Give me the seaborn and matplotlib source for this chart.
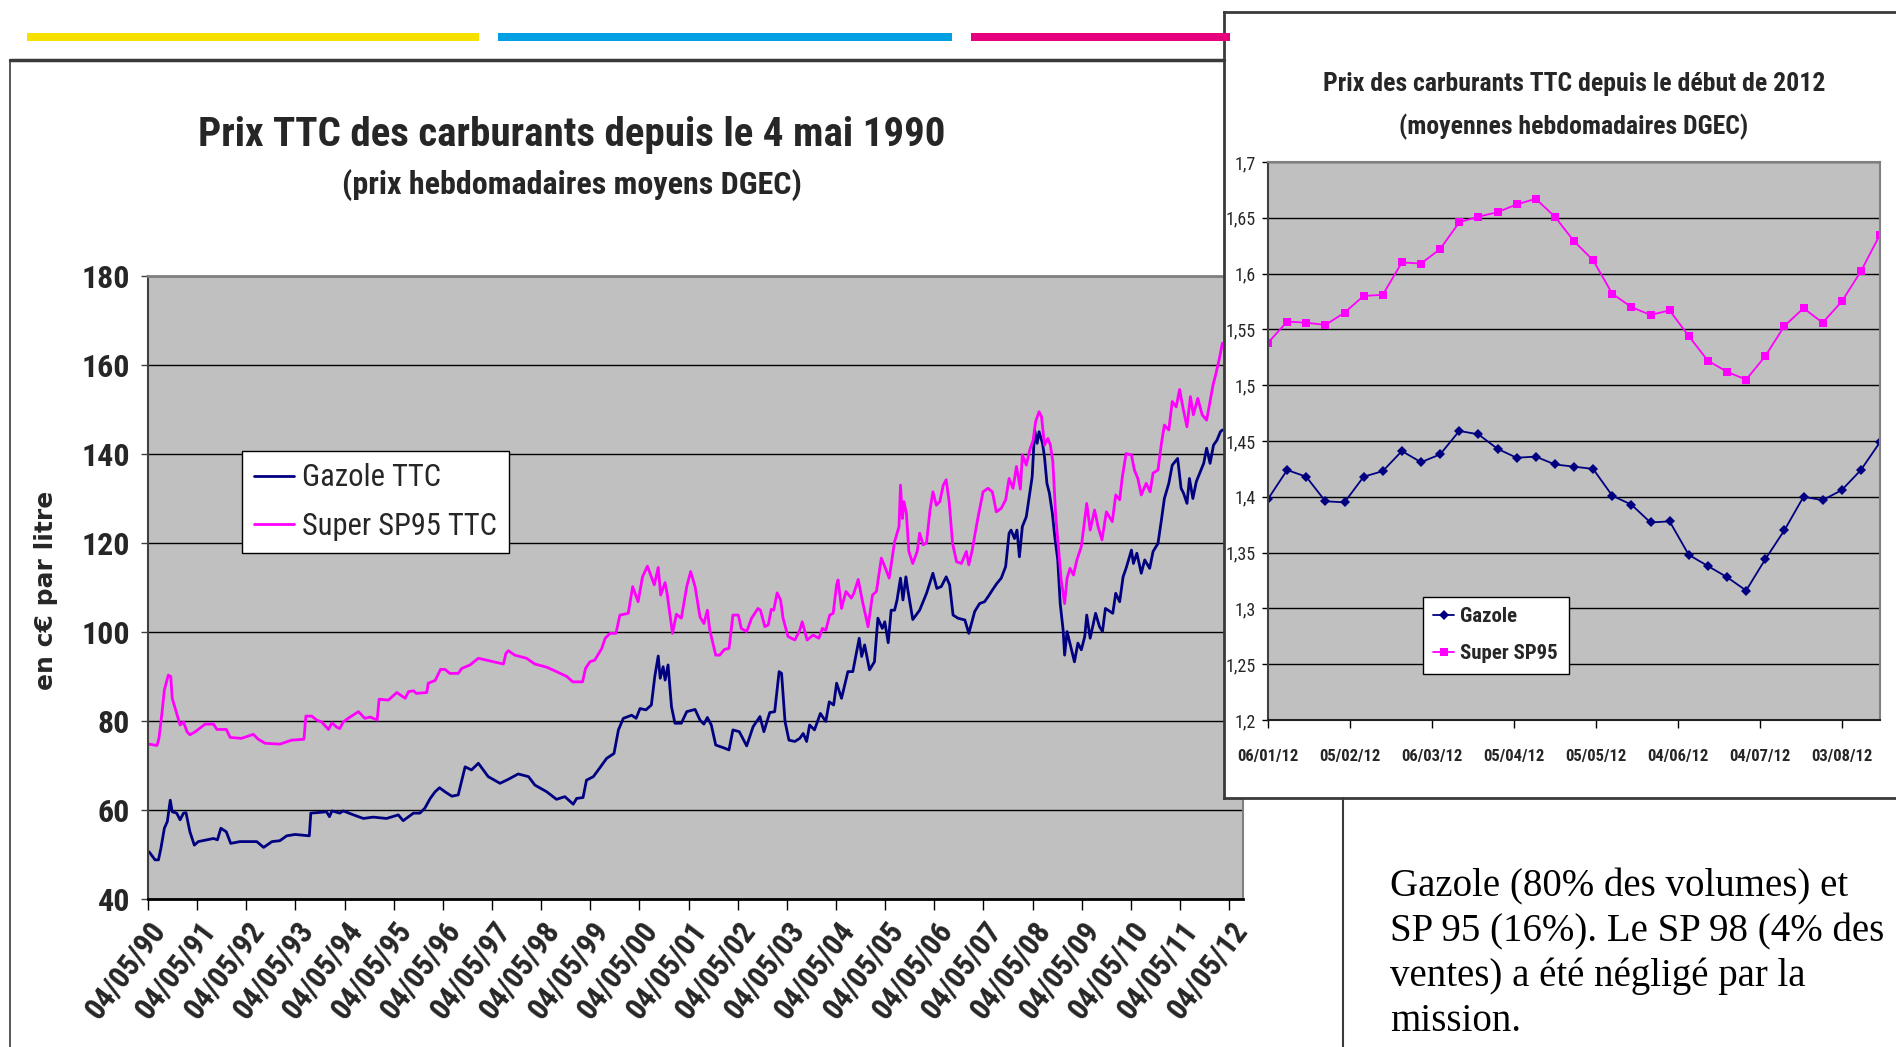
import pandas as pd
import matplotlib
matplotlib.use('Agg')
from matplotlib import pyplot as plt
from matplotlib.lines import Line2D
from matplotlib.patches import Rectangle
import seaborn as sns

# --- main chart: weekly prices (c€/l), decimal years ---
annees_gazole = [
    1990.36, 1990.48, 1990.55, 1990.60, 1990.67, 1990.73, 1990.79, 1990.83, 1990.92, 1990.99,
    1991.06, 1991.11, 1991.19, 1991.28, 1991.36, 1991.67, 1991.75, 1991.82, 1991.93, 1992.02,
    1992.21, 1992.55, 1992.69, 1992.86, 1993.02, 1993.16, 1993.33, 1993.62, 1993.65, 1993.77,
    1993.97, 1994.03, 1994.08, 1994.24, 1994.31, 1994.52, 1994.72, 1994.92, 1995.19, 1995.43,
    1995.53, 1995.74, 1995.87, 1995.97, 1996.08, 1996.18, 1996.27, 1996.38, 1996.52, 1996.65,
    1996.79, 1996.92, 1997.06, 1997.26, 1997.50, 1997.67, 1997.87, 1998.08, 1998.21, 1998.45,
    1998.65, 1998.82, 1998.99, 1999.06, 1999.19, 1999.26, 1999.40, 1999.50, 1999.67, 1999.82,
    1999.91, 2000.01, 2000.18, 2000.27, 2000.35, 2000.47, 2000.58, 2000.65, 2000.72, 2000.76,
    2000.82, 2000.86, 2000.92, 2000.99, 2001.06, 2001.19, 2001.30, 2001.47, 2001.57, 2001.65,
    2001.72, 2001.80, 2001.89, 2002.07, 2002.16, 2002.24, 2002.37, 2002.52, 2002.65, 2002.79,
    2002.87, 2002.99, 2003.09, 2003.18, 2003.23, 2003.30, 2003.38, 2003.50, 2003.60, 2003.67,
    2003.74, 2003.80, 2003.90, 2004.02, 2004.13, 2004.20, 2004.29, 2004.35, 2004.45, 2004.58,
    2004.68, 2004.75, 2004.81, 2004.86, 2004.92, 2005.02, 2005.12, 2005.19, 2005.28, 2005.33,
    2005.40, 2005.46, 2005.53, 2005.58, 2005.65, 2005.70, 2005.76, 2005.80, 2005.90, 2006.04,
    2006.18, 2006.31, 2006.39, 2006.48, 2006.58, 2006.65, 2006.72, 2006.82, 2006.96, 2007.04,
    2007.16, 2007.26, 2007.36, 2007.43, 2007.53, 2007.61, 2007.70, 2007.79, 2007.86, 2007.90,
    2007.97, 2008.02, 2008.07, 2008.13, 2008.21, 2008.28, 2008.33, 2008.38, 2008.43, 2008.47,
    2008.54, 2008.58, 2008.63, 2008.68, 2008.74, 2008.79, 2008.85, 2008.90, 2008.96, 2008.99,
    2009.04, 2009.09, 2009.19, 2009.26, 2009.33, 2009.40, 2009.44, 2009.51, 2009.62, 2009.70,
    2009.76, 2009.82, 2009.97, 2010.03, 2010.11, 2010.18, 2010.24, 2010.35, 2010.39, 2010.46,
    2010.55, 2010.62, 2010.72, 2010.79, 2010.89, 2010.96, 2011.02, 2011.11, 2011.18, 2011.29,
    2011.36, 2011.41, 2011.48, 2011.53, 2011.60, 2011.67, 2011.75, 2011.82, 2011.88, 2011.95,
    2012.02, 2012.09, 2012.16, 2012.20,
]
gazole = [
    50.6, 48.8, 48.8, 51.4, 55.9, 57.4, 62.2, 59.6, 59.3, 57.8,
    59.3, 59.4, 55.1, 52.1, 52.9, 53.6, 53.3, 55.9, 55.1, 52.5,
    52.9, 52.9, 51.6, 52.9, 53.1, 54.2, 54.5, 54.2, 59.3, 59.4,
    59.6, 58.5, 59.8, 59.3, 59.8, 58.9, 58.1, 58.4, 58.1, 58.9,
    57.6, 59.3, 59.3, 60.4, 62.6, 64.1, 65.0, 64.1, 63.1, 63.4,
    69.7, 69.0, 70.5, 67.5, 66.0, 66.9, 68.1, 67.5, 65.6, 64.1,
    62.4, 63.0, 61.3, 62.6, 62.8, 66.7, 67.5, 69.0, 71.6, 72.7,
    78.0, 80.6, 81.3, 80.6, 82.8, 82.5, 83.6, 90.0, 94.6, 89.6,
    92.2, 89.2, 92.6, 83.2, 79.5, 79.5, 82.1, 82.6, 80.2, 79.3,
    80.8, 79.1, 74.6, 73.9, 73.5, 78.0, 77.6, 74.4, 78.7, 81.0,
    77.6, 81.9, 82.1, 91.1, 90.7, 79.9, 75.7, 75.4, 76.1, 77.2,
    75.4, 79.1, 78.0, 81.7, 79.9, 84.3, 83.6, 88.5, 85.1, 91.1,
    91.1, 95.2, 98.6, 94.5, 97.1, 91.5, 93.3, 103.1, 100.8, 102.3,
    97.6, 104.9, 104.9, 107.2, 112.1, 107.2, 112.4, 109.4, 102.8, 104.9,
    108.7, 113.2, 109.8, 110.2, 112.4, 110.6, 103.8, 103.1, 102.7, 99.7,
    104.6, 106.4, 106.8, 107.9, 109.6, 110.9, 112.1, 114.7, 122.2, 122.9,
    121.0, 122.9, 116.9, 123.7, 125.9, 131.2, 134.9, 145.4, 142.4, 145.0,
    142.4, 139.4, 133.4, 131.2, 126.7, 121.4, 116.2, 106.4, 100.4, 94.8,
    100.1, 97.8, 93.3, 97.5, 96.0, 99.0, 103.8, 98.6, 104.2, 101.2,
    100.1, 105.3, 104.2, 108.7, 106.8, 112.4, 114.3, 118.4, 115.4, 117.7,
    113.2, 116.2, 114.3, 118.1, 119.9, 125.2, 130.0, 133.4, 137.5, 139.0,
    132.3, 131.2, 128.9, 134.5, 130.0, 133.8, 136.0, 137.9, 141.3, 137.9,
    142.0, 143.1, 145.0, 145.4,
]

annees_sp95 = [
    1990.36, 1990.52, 1990.56, 1990.62, 1990.67, 1990.75, 1990.80, 1990.83, 1990.91, 1990.99,
    1991.06, 1991.13, 1991.19, 1991.30, 1991.50, 1991.67, 1991.74, 1991.93, 1992.01, 1992.24,
    1992.48, 1992.58, 1992.72, 1993.02, 1993.26, 1993.51, 1993.55, 1993.67, 1993.77, 1993.87,
    1994.01, 1994.08, 1994.18, 1994.24, 1994.31, 1994.45, 1994.62, 1994.75, 1994.86, 1995.00,
    1995.04, 1995.23, 1995.40, 1995.57, 1995.64, 1995.74, 1995.80, 1996.01, 1996.04, 1996.18,
    1996.29, 1996.38, 1996.48, 1996.65, 1996.72, 1996.89, 1997.06, 1997.26, 1997.50, 1997.57,
    1997.62, 1997.67, 1997.80, 1998.04, 1998.21, 1998.45, 1998.65, 1998.86, 1998.98, 1999.18,
    1999.24, 1999.33, 1999.43, 1999.57, 1999.64, 1999.74, 1999.86, 1999.94, 2000.11, 2000.20,
    2000.31, 2000.40, 2000.50, 2000.58, 2000.64, 2000.72, 2000.77, 2000.86, 2000.90, 2001.01,
    2001.09, 2001.19, 2001.30, 2001.38, 2001.47, 2001.57, 2001.65, 2001.72, 2001.77, 2001.89,
    2001.97, 2002.07, 2002.16, 2002.24, 2002.35, 2002.41, 2002.52, 2002.62, 2002.75, 2002.80,
    2002.89, 2002.96, 2003.02, 2003.07, 2003.14, 2003.21, 2003.26, 2003.36, 2003.50, 2003.60,
    2003.65, 2003.75, 2003.87, 2003.99, 2004.06, 2004.13, 2004.21, 2004.28, 2004.35, 2004.38,
    2004.45, 2004.54, 2004.65, 2004.70, 2004.79, 2004.87, 2004.99, 2005.08, 2005.16, 2005.26,
    2005.33, 2005.42, 2005.50, 2005.53, 2005.62, 2005.65, 2005.69, 2005.72, 2005.77, 2005.82,
    2005.90, 2005.99, 2006.04, 2006.11, 2006.18, 2006.25, 2006.31, 2006.38, 2006.45, 2006.52,
    2006.58, 2006.64, 2006.71, 2006.79, 2006.89, 2006.99, 2007.04, 2007.11, 2007.18, 2007.23,
    2007.33, 2007.43, 2007.52, 2007.60, 2007.70, 2007.79, 2007.86, 2007.94, 2008.01, 2008.09,
    2008.13, 2008.21, 2008.28, 2008.35, 2008.40, 2008.47, 2008.52, 2008.58, 2008.65, 2008.70,
    2008.75, 2008.81, 2008.87, 2008.92, 2008.99, 2009.04, 2009.10, 2009.17, 2009.24, 2009.33,
    2009.38, 2009.44, 2009.51, 2009.60, 2009.67, 2009.75, 2009.84, 2009.96, 2010.03, 2010.11,
    2010.16, 2010.24, 2010.35, 2010.41, 2010.48, 2010.55, 2010.65, 2010.73, 2010.79, 2010.89,
    2010.96, 2011.02, 2011.11, 2011.18, 2011.26, 2011.33, 2011.40, 2011.48, 2011.55, 2011.61,
    2011.70, 2011.79, 2011.88, 2011.95, 2012.01, 2012.07, 2012.14, 2012.20,
]
sp95 = [
    74.8, 74.5, 76.1, 81.7, 87.0, 90.3, 90.0, 85.1, 82.1, 79.1,
    79.8, 77.6, 76.9, 77.6, 79.3, 79.3, 78.1, 78.1, 76.3, 76.1,
    77.0, 75.9, 75.0, 74.8, 75.7, 75.9, 81.1, 81.1, 80.2, 79.8,
    78.1, 79.6, 78.6, 78.3, 79.8, 80.9, 82.1, 80.6, 80.9, 80.2,
    84.9, 84.7, 86.4, 85.1, 86.6, 86.8, 86.2, 86.4, 88.5, 89.1,
    91.6, 91.6, 90.7, 90.7, 91.8, 92.6, 94.1, 93.6, 93.0, 92.8,
    95.2, 95.8, 94.8, 94.1, 92.8, 92.1, 91.1, 90.0, 88.8, 88.8,
    91.8, 93.3, 93.7, 96.3, 98.6, 99.7, 99.7, 103.8, 104.2, 110.2,
    106.8, 112.4, 114.8, 112.4, 110.6, 114.5, 108.3, 111.1, 108.7, 99.7,
    104.0, 103.1, 110.2, 113.6, 110.2, 103.4, 101.9, 104.9, 100.4, 94.8,
    94.8, 96.1, 96.3, 103.8, 103.8, 100.8, 100.1, 103.1, 105.3, 104.9,
    101.2, 101.6, 105.1, 104.9, 108.8, 107.2, 103.1, 99.0, 98.2, 100.4,
    102.3, 98.2, 99.3, 98.6, 100.8, 100.4, 103.8, 104.2, 110.6, 111.7,
    105.3, 109.1, 107.6, 108.7, 111.8, 107.2, 101.2, 108.3, 109.1, 116.6,
    114.7, 112.1, 118.1, 120.3, 123.7, 133.0, 125.5, 129.3, 126.7, 118.1,
    115.4, 118.1, 122.2, 119.6, 120.0, 127.4, 131.5, 128.5, 129.3, 133.0,
    134.2, 129.3, 119.9, 115.8, 115.4, 118.1, 115.1, 118.4, 122.9, 125.9,
    131.5, 132.3, 131.5, 127.0, 127.8, 129.7, 134.5, 132.3, 137.2, 132.1,
    139.8, 137.5, 140.9, 143.1, 147.3, 149.5, 148.4, 142.0, 143.5, 142.0,
    138.3, 125.9, 118.4, 111.7, 106.4, 112.1, 114.3, 112.8, 116.2, 119.2,
    123.7, 128.9, 122.9, 127.4, 123.7, 120.7, 127.0, 124.8, 130.8, 129.7,
    134.5, 140.1, 139.8, 136.4, 134.5, 130.8, 133.4, 131.5, 135.7, 136.4,
    142.4, 146.5, 145.4, 151.8, 150.6, 154.5, 150.3, 146.1, 152.9, 148.8,
    152.5, 148.8, 147.6, 151.8, 155.5, 158.1, 161.5, 164.9,
]

labels_x_main = ['04/05/90', '04/05/91', '04/05/92', '04/05/93', '04/05/94', '04/05/95',
                 '04/05/96', '04/05/97', '04/05/98', '04/05/99', '04/05/00', '04/05/01',
                 '04/05/02', '04/05/03', '04/05/04', '04/05/05', '04/05/06', '04/05/07',
                 '04/05/08', '04/05/09', '04/05/10', '04/05/11', '04/05/12']

# --- inset: 2012 weekly averages (€/l) ---
semaines_2012 = ['06/01/12', '13/01/12', '20/01/12', '27/01/12', '03/02/12', '10/02/12',
                 '17/02/12', '24/02/12', '02/03/12', '09/03/12', '16/03/12', '23/03/12',
                 '30/03/12', '06/04/12', '13/04/12', '20/04/12', '27/04/12', '04/05/12',
                 '11/05/12', '18/05/12', '25/05/12', '01/06/12', '08/06/12', '15/06/12',
                 '22/06/12', '29/06/12', '06/07/12', '13/07/12', '20/07/12', '27/07/12',
                 '03/08/12', '10/08/12', '17/08/12']
gazole_2012 = [1.398, 1.424, 1.418, 1.396, 1.395, 1.418, 1.423, 1.441, 1.431, 1.438,
               1.459, 1.456, 1.443, 1.435, 1.436, 1.429, 1.427, 1.425, 1.401, 1.393,
               1.377, 1.378, 1.348, 1.338, 1.328, 1.316, 1.344, 1.370, 1.400, 1.397,
               1.406, 1.424, 1.449]
sp95_2012 = [1.538, 1.557, 1.556, 1.554, 1.565, 1.580, 1.581, 1.610, 1.609, 1.622,
             1.646, 1.651, 1.655, 1.662, 1.667, 1.651, 1.629, 1.612, 1.582, 1.570,
             1.563, 1.567, 1.544, 1.522, 1.512, 1.505, 1.526, 1.553, 1.569, 1.556,
             1.575, 1.602, 1.635]
labels_x_2012 = ['06/01/12', '05/02/12', '06/03/12', '05/04/12', '05/05/12',
                 '04/06/12', '04/07/12', '03/08/12']
labels_y_2012 = ['1,2', '1,25', '1,3', '1,35', '1,4', '1,45', '1,5', '1,55', '1,6', '1,65', '1,7']

note_lines = ['Gazole (80% des volumes) et', 'SP 95 (16%). Le SP 98 (4% des',
              'ventes) a été négligé par la', 'mission.']

NAVY = '#000080'
MAGENTA = '#FF00FF'
SILVER = '#C0C0C0'

sns.set_theme(style='white')
NARROW = ['Roboto Condensed', 'DejaVu Sans']
plt.rcParams['font.family'] = NARROW
plt.rcParams['font.stretch'] = 'condensed'

W, H = 1896, 1047
fig = plt.figure(figsize=(W / 100, H / 100), dpi=100)
fig.patch.set_facecolor('white')


def rect(x0, y0, x1, y1):
    # pixel box measured from the top-left corner -> figure fraction rect
    return [x0 / W, 1 - y1 / H, (x1 - x0) / W, (y1 - y0) / H]


def hline(x0, x1, y, **kw):
    fig.add_artist(Line2D([x0 / W, x1 / W], [1 - y / H] * 2, transform=fig.transFigure, **kw))


def vline(x, y0, y1, **kw):
    fig.add_artist(Line2D([x / W] * 2, [1 - y0 / H, 1 - y1 / H], transform=fig.transFigure, **kw))


# colour strip at the top of the slide
for x0, x1, c in [(27, 479, '#F5E000'), (498, 952, '#00A0E3'), (971, 1230, '#E6007E')]:
    fig.add_artist(Rectangle((x0 / W, 1 - 41 / H), (x1 - x0) / W, 8 / H,
                             transform=fig.transFigure, color=c, lw=0))

# frame of the main chart
hline(10, 1224, 60, color='#3a3a3a', lw=2.5)
vline(10, 60, 1047, color='#3a3a3a', lw=1.2)

# ---------------- main chart ----------------
ax = fig.add_axes(rect(148, 276, 1243, 899))
df_main = pd.concat([
    pd.DataFrame({'annee': annees_gazole, 'prix': gazole, 'serie': 'Gazole TTC'}),
    pd.DataFrame({'annee': annees_sp95, 'prix': sp95, 'serie': 'Super SP95 TTC'}),
])
sns.lineplot(data=df_main, x='annee', y='prix', hue='serie',
             palette={'Gazole TTC': NAVY, 'Super SP95 TTC': MAGENTA},
             estimator=None, sort=False, lw=2, ax=ax)

ax.set_facecolor(SILVER)
ax.set_xlim(1990 + 123 / 365, 2012.62)
ax.set_ylim(40, 180)
ax.set_yticks(range(40, 181, 20))
ax.yaxis.grid(True, color='black', lw=1)
ax.xaxis.grid(False)
ax.set_axisbelow(True)
ax.set_xticks([1990 + i + 123 / 365 for i in range(len(labels_x_main))])
ax.set_xticklabels(labels_x_main, rotation=53, ha='right', rotation_mode='anchor',
                   fontsize=22, fontweight='bold')
for t in ax.get_yticklabels():
    t.set_fontsize(23)
    t.set_fontweight('bold')
ax.tick_params(axis='x', direction='out', length=8, width=1, color='black', pad=4, bottom=True)
ax.tick_params(axis='y', direction='out', length=5, width=1, color='#404040', pad=8, left=True)
ax.set_xlabel('')
ax.set_ylabel('')
for side, c, w in [('top', '#808080', 2), ('right', '#808080', 1.5),
                   ('left', '#404040', 1.5), ('bottom', 'black', 2)]:
    ax.spines[side].set_color(c)
    ax.spines[side].set_linewidth(w)
    ax.spines[side].set_visible(True)

handles, labels = ax.get_legend_handles_labels()
leg = ax.legend(handles, labels, loc='upper left', bbox_to_anchor=(0.0858, 0.719),
                borderaxespad=0, frameon=True, fancybox=False, framealpha=1,
                edgecolor='black', prop={'family': NARROW, 'size': 22, 'stretch': 'condensed'},
                handlelength=1.3, handletextpad=0.25, borderpad=0.4, labelspacing=0.65)
leg.get_frame().set_linewidth(1)

fig.text(572 / W, 1 - 135 / H, 'Prix TTC des carburants depuis le 4 mai 1990',
         ha='center', va='center', fontsize=29.5, fontweight='bold')
fig.text(572 / W, 1 - 185 / H, '(prix hebdomadaires moyens DGEC)',
         ha='center', va='center', fontsize=23, fontweight='bold')
fig.text(46 / W, 1 - 590 / H, 'en c€ par litre', rotation=90, ha='center', va='center',
         fontsize=18, fontweight='bold', family=['DejaVu Sans'], fontstretch='normal')

# ---------------- inset (2012) ----------------
frame = fig.add_axes(rect(1224, 12, 1896, 798))
frame.set_facecolor('white')
frame.set_xticks([])
frame.set_yticks([])
for side in ['top', 'bottom', 'left']:
    frame.spines[side].set_color('#3a3a3a')
    frame.spines[side].set_linewidth(2)
frame.spines['right'].set_visible(False)

ax2 = fig.add_axes(rect(1268, 162, 1880, 720))
df_2012 = pd.concat([
    pd.DataFrame({'semaine': pd.to_datetime(semaines_2012, format='%d/%m/%y'),
                  'prix': gazole_2012, 'serie': 'Gazole'}),
    pd.DataFrame({'semaine': pd.to_datetime(semaines_2012, format='%d/%m/%y'),
                  'prix': sp95_2012, 'serie': 'Super SP95'}),
])
sns.lineplot(data=df_2012, x='semaine', y='prix', hue='serie', style='serie',
             palette={'Gazole': NAVY, 'Super SP95': MAGENTA},
             markers={'Gazole': 'D', 'Super SP95': 's'}, dashes=False,
             markersize=5.5, markeredgewidth=0, lw=1.3, ax=ax2)

ax2.set_facecolor(SILVER)
ax2.set_xlim(pd.Timestamp('2012-01-06'), pd.Timestamp('2012-08-17'))
ax2.set_ylim(1.2, 1.7)
ax2.set_yticks([1.2 + 0.05 * i for i in range(len(labels_y_2012))])
ax2.set_yticklabels(labels_y_2012, fontsize=13)
ax2.set_xticks(pd.to_datetime(labels_x_2012, format='%d/%m/%y'))
ax2.set_xticklabels(labels_x_2012, fontsize=12, fontweight='bold')
ax2.yaxis.grid(True, color='black', lw=1)
ax2.xaxis.grid(False)
ax2.set_axisbelow(True)
ax2.tick_params(axis='x', direction='out', length=6, width=1, color='black', pad=15, bottom=True)
ax2.tick_params(axis='y', direction='out', length=4, width=1, color='black', pad=5, left=True)
ax2.set_xlabel('')
ax2.set_ylabel('')
for side, c, w in [('top', '#808080', 1.5), ('right', '#808080', 1.5),
                   ('left', '#404040', 1.5), ('bottom', '#202020', 1.5)]:
    ax2.spines[side].set_color(c)
    ax2.spines[side].set_linewidth(w)
    ax2.spines[side].set_visible(True)

h2, l2 = ax2.get_legend_handles_labels()
leg2 = ax2.legend(h2, l2, loc='upper left', bbox_to_anchor=(0.253, 0.2204),
                  borderaxespad=0, frameon=True, fancybox=False, framealpha=1,
                  edgecolor='black',
                  prop={'family': NARROW, 'size': 15, 'weight': 'bold', 'stretch': 'condensed'},
                  handlelength=1.0, handletextpad=0.3, borderpad=0.5, labelspacing=0.85)
leg2.get_frame().set_linewidth(1)

fig.text(1574 / W, 1 - 84 / H, 'Prix des carburants TTC depuis le début de 2012',
         ha='center', va='center', fontsize=18.5, fontweight='bold')
fig.text(1574 / W, 1 - 127 / H, '(moyennes hebdomadaires DGEC)',
         ha='center', va='center', fontsize=18.5, fontweight='bold')

# ---------------- note box ----------------
vline(1343, 798, 1047, color='#3a3a3a', lw=1.5)
for i, line in enumerate(note_lines):
    fig.text(1390 / W, 1 - (887 + 44.7 * i) / H, line, ha='left', va='center',
             fontsize=28, family=['Liberation Serif', 'DejaVu Serif'],
             fontstretch='normal', color='black')

fig.savefig('out.png', dpi=100, facecolor='white')
